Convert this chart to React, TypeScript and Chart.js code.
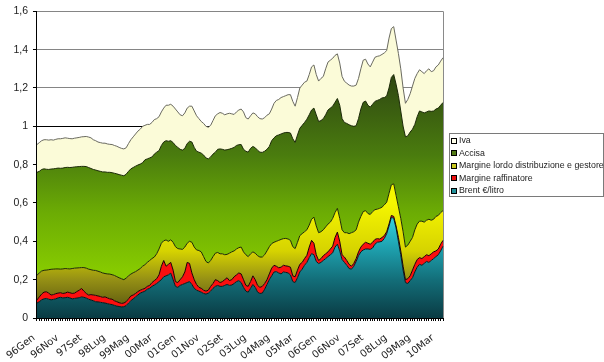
import React, { useEffect, useRef } from 'react';
import { Chart, registerables } from 'chart.js';

Chart.register(...registerables);

// ---------- data ----------
const startYear = 1996;
const monthNames = ['Gen', 'Feb', 'Mar', 'Apr', 'Mag', 'Giu', 'Lug', 'Ago', 'Set', 'Ott', 'Nov', 'Dic'];
const monthCount = 174; // Gen 1996 .. Giu 2010

const categories: string[] = [];
for (let k = 0; k < monthCount; k++) {
  const yy = String((startYear + Math.floor(k / 12)) % 100).padStart(2, '0');
  categories.push(yy + monthNames[k % 12]);
}

const xTickLabels = ['96Gen', '96Nov', '97Set', '98Lug', '99Mag', '00Mar', '01Gen', '01Nov', '02Set',
  '03Lug', '04Mag', '05Mar', '06Gen', '06Nov', '07Set', '08Lug', '09Mag', '10Mar'];

// cumulative levels (€/litro), upper edge of each band
const brentTop = [
  0.078, 0.085, 0.095, 0.100, 0.102, 0.098, 0.095, 0.097, 0.100, 0.105, 0.108, 0.105,
  0.106, 0.108, 0.105, 0.100, 0.102, 0.104, 0.106, 0.110, 0.108, 0.104, 0.098, 0.094,
  0.090, 0.085, 0.084, 0.082, 0.080, 0.078, 0.075, 0.072, 0.070, 0.066, 0.062, 0.060,
  0.058, 0.059, 0.065, 0.078, 0.090, 0.100, 0.110, 0.120, 0.130, 0.135, 0.140, 0.150,
  0.155, 0.165, 0.172, 0.180, 0.190, 0.200, 0.215, 0.220, 0.225, 0.234, 0.200, 0.165,
  0.160, 0.170, 0.175, 0.180, 0.185, 0.190, 0.175, 0.155, 0.145, 0.140, 0.135, 0.128,
  0.125, 0.130, 0.140, 0.155, 0.165, 0.170, 0.165, 0.165, 0.170, 0.175, 0.170, 0.172,
  0.180, 0.190, 0.195, 0.185, 0.160, 0.140, 0.135, 0.155, 0.175, 0.160, 0.135, 0.128,
  0.130, 0.150, 0.175, 0.200, 0.220, 0.240, 0.242, 0.235, 0.230, 0.240, 0.238, 0.235,
  0.225, 0.190, 0.185, 0.210, 0.240, 0.255, 0.275, 0.290, 0.315, 0.336, 0.330, 0.295,
  0.284, 0.290, 0.300, 0.310, 0.320, 0.330, 0.340, 0.370, 0.385, 0.350, 0.305, 0.290,
  0.275, 0.258, 0.255, 0.270, 0.295, 0.325, 0.345, 0.355, 0.360, 0.360, 0.358, 0.365,
  0.385, 0.395, 0.397, 0.400, 0.415, 0.440, 0.480, 0.525, 0.520, 0.470, 0.400, 0.330,
  0.250, 0.185, 0.180, 0.195, 0.210, 0.240, 0.265, 0.280, 0.275, 0.285, 0.295, 0.290,
  0.300, 0.310, 0.320, 0.330, 0.350, 0.375,
];

const raffinatoreTop = [
  0.094, 0.110, 0.125, 0.135, 0.137, 0.130, 0.120, 0.122, 0.127, 0.130, 0.132, 0.128,
  0.130, 0.135, 0.132, 0.128, 0.130, 0.138, 0.145, 0.154, 0.140, 0.128, 0.120, 0.122,
  0.120, 0.118, 0.115, 0.112, 0.108, 0.110, 0.105, 0.100, 0.098, 0.090, 0.085, 0.080,
  0.076, 0.078, 0.085, 0.100, 0.115, 0.120, 0.128, 0.138, 0.145, 0.150, 0.155, 0.165,
  0.170, 0.185, 0.195, 0.205, 0.225, 0.270, 0.300, 0.270, 0.280, 0.290, 0.250, 0.190,
  0.185, 0.200, 0.215, 0.240, 0.290, 0.285, 0.235, 0.200, 0.175, 0.160, 0.155, 0.145,
  0.140, 0.145, 0.165, 0.180, 0.200, 0.195, 0.185, 0.190, 0.200, 0.210, 0.195, 0.200,
  0.215, 0.225, 0.235, 0.230, 0.200, 0.170, 0.165, 0.190, 0.220, 0.200, 0.170, 0.160,
  0.165, 0.180, 0.200, 0.230, 0.260, 0.275, 0.270, 0.262, 0.265, 0.275, 0.272, 0.270,
  0.265, 0.220, 0.215, 0.250, 0.280, 0.290, 0.310, 0.327, 0.370, 0.405, 0.390, 0.330,
  0.300, 0.310, 0.325, 0.335, 0.345, 0.360, 0.375, 0.420, 0.448, 0.400, 0.330, 0.318,
  0.300, 0.280, 0.270, 0.285, 0.310, 0.345, 0.370, 0.385, 0.395, 0.390, 0.385, 0.395,
  0.410, 0.414, 0.412, 0.420, 0.430, 0.450, 0.490, 0.535, 0.530, 0.480, 0.420, 0.350,
  0.270, 0.200, 0.205, 0.220, 0.250, 0.280, 0.305, 0.315, 0.310, 0.320, 0.330, 0.325,
  0.335, 0.345, 0.350, 0.360, 0.385, 0.405,
];

const margineTop = [
  0.223, 0.235, 0.245, 0.249, 0.250, 0.252, 0.254, 0.255, 0.256, 0.256, 0.255, 0.256,
  0.258, 0.257, 0.256, 0.258, 0.260, 0.261, 0.262, 0.263, 0.263, 0.260, 0.255, 0.252,
  0.249, 0.248, 0.244, 0.240, 0.235, 0.232, 0.230, 0.229, 0.226, 0.222, 0.216, 0.210,
  0.205, 0.200, 0.208, 0.220, 0.229, 0.236, 0.242, 0.250, 0.258, 0.270, 0.278, 0.290,
  0.300, 0.310, 0.318, 0.335, 0.360, 0.390, 0.403, 0.407, 0.400, 0.408, 0.395, 0.372,
  0.362, 0.360, 0.358, 0.370, 0.390, 0.400, 0.395, 0.370, 0.355, 0.352, 0.345, 0.320,
  0.295, 0.287, 0.300, 0.320, 0.338, 0.342, 0.335, 0.335, 0.330, 0.332, 0.338, 0.345,
  0.350, 0.360, 0.367, 0.370, 0.345, 0.330, 0.320, 0.335, 0.345, 0.338, 0.325, 0.318,
  0.318, 0.330, 0.350, 0.372, 0.388, 0.395, 0.400, 0.405, 0.410, 0.414, 0.415, 0.412,
  0.405, 0.372, 0.362, 0.395, 0.430, 0.440, 0.450, 0.460, 0.485, 0.515, 0.526, 0.480,
  0.445, 0.450, 0.460, 0.475, 0.490, 0.500, 0.520, 0.550, 0.572, 0.520, 0.460, 0.445,
  0.445, 0.440, 0.445, 0.450, 0.460, 0.500, 0.530, 0.555, 0.560, 0.545, 0.540, 0.555,
  0.565, 0.568, 0.572, 0.578, 0.590, 0.604, 0.650, 0.695, 0.700, 0.640, 0.580, 0.520,
  0.450, 0.370, 0.380, 0.400, 0.420, 0.460, 0.490, 0.505, 0.505, 0.500, 0.510, 0.515,
  0.510, 0.515, 0.530, 0.535, 0.550, 0.560,
];

const accisaTop = [
  0.760, 0.765, 0.775, 0.778, 0.776, 0.775, 0.777, 0.778, 0.780, 0.782, 0.781, 0.782,
  0.785, 0.786, 0.785, 0.786, 0.788, 0.789, 0.790, 0.791, 0.791, 0.790, 0.785, 0.780,
  0.775, 0.772, 0.768, 0.765, 0.762, 0.762, 0.760, 0.760, 0.758, 0.755, 0.752, 0.748,
  0.745, 0.742, 0.750, 0.765, 0.778, 0.785, 0.792, 0.798, 0.803, 0.810, 0.825, 0.830,
  0.835, 0.840, 0.855, 0.865, 0.873, 0.900, 0.918, 0.925, 0.922, 0.925, 0.915, 0.900,
  0.890, 0.880, 0.876, 0.885, 0.910, 0.922, 0.918, 0.890, 0.870, 0.865, 0.860, 0.850,
  0.835, 0.830, 0.840, 0.855, 0.865, 0.880, 0.882, 0.880, 0.876, 0.878, 0.881, 0.885,
  0.890, 0.900, 0.904, 0.905, 0.880, 0.870, 0.865, 0.885, 0.895, 0.888, 0.875, 0.865,
  0.864, 0.870, 0.880, 0.895, 0.925, 0.940, 0.951, 0.955, 0.960, 0.965, 0.968, 0.968,
  0.965, 0.935, 0.916, 0.955, 0.990, 1.005, 1.020, 1.037, 1.060, 1.085, 1.095, 1.060,
  1.025, 1.030, 1.040, 1.060, 1.085, 1.095, 1.105, 1.125, 1.145, 1.110, 1.040, 1.020,
  1.015, 1.008, 1.003, 1.000, 1.003, 1.040, 1.090, 1.125, 1.132, 1.110, 1.100, 1.115,
  1.130, 1.135, 1.140, 1.148, 1.150, 1.158, 1.200, 1.255, 1.270, 1.220, 1.160, 1.080,
  1.000, 0.945, 0.950, 0.970, 0.985, 1.010, 1.050, 1.080, 1.075, 1.070, 1.075, 1.080,
  1.078, 1.080, 1.090, 1.095, 1.110, 1.124,
];

const ivaTop = [
  0.905, 0.915, 0.925, 0.930, 0.930, 0.928, 0.930, 0.928, 0.932, 0.935, 0.935, 0.937,
  0.940, 0.938, 0.936, 0.935, 0.938, 0.940, 0.942, 0.945, 0.946, 0.947, 0.944, 0.940,
  0.930, 0.925, 0.918, 0.915, 0.912, 0.912, 0.908, 0.906, 0.905, 0.900, 0.896, 0.890,
  0.885, 0.882, 0.888, 0.910, 0.930, 0.945, 0.960, 0.975, 0.985, 1.000, 1.005, 1.010,
  1.010, 1.020, 1.035, 1.040, 1.050, 1.075, 1.095, 1.110, 1.110, 1.115, 1.105, 1.090,
  1.075, 1.060, 1.055, 1.070, 1.095, 1.105, 1.105, 1.080, 1.055, 1.040, 1.025, 1.015,
  1.000, 0.995, 1.005, 1.030, 1.055, 1.065, 1.072, 1.068, 1.060, 1.065, 1.068, 1.065,
  1.062, 1.075, 1.085, 1.090, 1.075, 1.045, 1.038, 1.055, 1.070, 1.065, 1.050, 1.040,
  1.038, 1.045, 1.058, 1.065, 1.090, 1.120, 1.135, 1.140, 1.150, 1.155, 1.160, 1.165,
  1.165, 1.130, 1.105, 1.150, 1.200, 1.215, 1.230, 1.236, 1.270, 1.310, 1.320, 1.270,
  1.236, 1.250, 1.260, 1.300, 1.335, 1.345, 1.355, 1.370, 1.378, 1.330, 1.260, 1.235,
  1.225, 1.215, 1.210, 1.210, 1.215, 1.250, 1.300, 1.345, 1.350, 1.325, 1.310, 1.335,
  1.360, 1.365, 1.368, 1.375, 1.383, 1.395, 1.460, 1.510, 1.520, 1.450, 1.380, 1.300,
  1.200, 1.120, 1.140, 1.170, 1.210, 1.250, 1.275, 1.295, 1.285, 1.275, 1.290, 1.300,
  1.285, 1.290, 1.310, 1.320, 1.340, 1.358,
];

const seriesNames = ['Brent €/litro', 'Margine raffinatore', 'Margine lordo distribuzione e gestore', 'Accisa', 'Iva'];
const yMin = 0;
const yMax = 1.6;
const yStep = 0.2;

// ---------- styling helpers ----------
type Stop = [number, string];

function bandGradient(chart: any, stops: Stop[]): any {
  const { ctx, chartArea, scales } = chart;
  if (!chartArea || !scales || !scales.y) return stops[stops.length - 1][1];
  const y = scales.y;
  const bottom = y.getPixelForValue(stops[0][0]);
  const top = y.getPixelForValue(stops[stops.length - 1][0]);
  const g = ctx.createLinearGradient(0, bottom, 0, top);
  stops.forEach(([v, c]) => {
    const off = (y.getPixelForValue(v) - bottom) / (top - bottom);
    g.addColorStop(Math.min(1, Math.max(0, off)), c);
  });
  return g;
}

const legendSwatches = ['#21909a', '#ec1010', '#c8c820', '#527a14', '#ffffea'];

const boxLegend = {
  id: 'boxLegend',
  beforeDatasetsDraw(chart: any) {
    const { ctx, chartArea } = chart;
    ctx.save();
    ctx.strokeStyle = '#8a8a8a';
    ctx.lineWidth = 1;
    ctx.beginPath();
    ctx.moveTo(Math.round(chartArea.right) + 0.5, chartArea.top);
    ctx.lineTo(Math.round(chartArea.right) + 0.5, chartArea.bottom);
    ctx.stroke();
    ctx.restore();
  },
  afterDraw(chart: any) {
    const { ctx, chartArea } = chart;
    const n = seriesNames.length;
    const rowH = 12.5;
    const height = 63;
    const left = Math.round(chartArea.right) + 6;
    const top = Math.round((chartArea.top + chartArea.bottom) / 2 - height / 2);
    const width = 154;
    ctx.save();
    ctx.fillStyle = '#ffffff';
    ctx.fillRect(left, top, width, height);
    ctx.strokeStyle = '#7a7a7a';
    ctx.lineWidth = 1;
    ctx.strokeRect(left + 0.5, top + 0.5, width, height);
    ctx.font = '8.8px "Liberation Sans", Arial, sans-serif';
    ctx.textBaseline = 'middle';
    ctx.textAlign = 'left';
    for (let k = 0; k < n; k++) {
      const idx = n - 1 - k;
      const cy = top + 7.5 + k * rowH;
      const bx = left + 2;
      const by = Math.round(cy - 3);
      ctx.fillStyle = legendSwatches[idx];
      ctx.fillRect(bx, by, 6, 6);
      ctx.strokeStyle = '#000';
      ctx.strokeRect(bx + 0.5, by + 0.5, 5, 5);
      ctx.fillStyle = '#222';
      ctx.fillText(seriesNames[idx], left + 10, cy + 0.5);
    }
    ctx.restore();
  },
};

export default function App() {
  const canvasRef = useRef<HTMLCanvasElement | null>(null);

  useEffect(() => {
    const canvas = canvasRef.current;
    if (!canvas) return;

    const common = {
      pointRadius: 0,
      pointHoverRadius: 0,
      borderWidth: 1,
      tension: 0,
    };

    const chart = new Chart(canvas, {
      type: 'line',
      data: {
        labels: categories,
        datasets: [
          {
            ...common,
            label: seriesNames[0],
            data: brentTop,
            fill: 'origin',
            borderColor: '#06181a',
            backgroundColor: (c: any) => bandGradient(c.chart, [[0, '#0a3b43'], [0.2, '#136e79'], [0.38, '#1fa5b3'], [0.53, '#36d2df']]),
          },
          {
            ...common,
            label: seriesNames[1],
            data: raffinatoreTop,
            fill: '-1',
            borderColor: '#1a0000',
            backgroundColor: '#fb0f0f',
          },
          {
            ...common,
            label: seriesNames[2],
            data: margineTop,
            fill: '-1',
            borderColor: '#1c2a02',
            backgroundColor: (c: any) => bandGradient(c.chart, [[0.05, '#5e5a10'], [0.2, '#959015'], [0.35, '#d6d300'], [0.6, '#f6f600']]),
          },
          {
            ...common,
            label: seriesNames[3],
            data: accisaTop,
            fill: '-1',
            borderColor: '#1c2a08',
            backgroundColor: (c: any) => bandGradient(c.chart, [[0.25, '#86ca00'], [0.55, '#6cac04'], [0.85, '#4a7c0e'], [1.27, '#2e4612']]),
          },
          {
            ...common,
            label: seriesNames[4],
            data: ivaTop,
            fill: '-1',
            borderColor: '#6a6a60',
            backgroundColor: '#fbfbd8',
          },
        ],
      },
      options: {
        responsive: false,
        maintainAspectRatio: false,
        animation: false,
        devicePixelRatio: 1,
        events: [],
        layout: { padding: { top: 10, right: 161, left: 0, bottom: 0 } },
        plugins: {
          legend: { display: false },
          tooltip: { enabled: false },
          filler: { propagate: false },
        },
        scales: {
          x: {
            type: 'category',
            offset: false,
            border: { display: true, color: '#000', width: 1 },
            grid: {
              display: true,
              drawOnChartArea: false,
              drawTicks: true,
              tickLength: 3,
              tickColor: '#000',
              offset: false,
            },
            ticks: {
              autoSkip: false,
              minRotation: 38,
              maxRotation: 38,
              padding: 11,
              labelOffset: -3,
              color: '#222',
              font: { family: '"DejaVu Sans", Verdana, sans-serif', size: 10 },
              callback: (_v: any, index: number) => (xTickLabels.includes(categories[index]) ? categories[index] : ''),
            },
            afterFit: (scale: any) => {
              scale.height = 44;
            },
          },
          y: {
            min: yMin,
            max: yMax,
            border: { display: true, color: '#000', width: 1 },
            grid: {
              color: (c: any) => (c.tick && Math.abs(c.tick.value - 1) < 1e-6 ? '#000000' : '#858585'),
              lineWidth: 1,
              tickLength: 4,
              tickColor: '#000',
            },
            ticks: {
              stepSize: yStep,
              padding: 5,
              color: '#222',
              font: { family: '"Liberation Sans", Arial, sans-serif', size: 10.5 },
              callback: (v: any) => String(Number(Number(v).toFixed(1))).replace('.', ','),
            },
            afterFit: (scale: any) => {
              scale.width = 36;
            },
          },
        },
      },
      plugins: [boxLegend],
    } as any);

    return () => {
      chart.destroy();
    };
  }, []);

  return (
    <div style={{ position: 'absolute', left: 0, top: 0, width: 604, height: 362, background: '#fff' }}>
      <canvas ref={canvasRef} width={604} height={362} style={{ display: 'block', width: 604, height: 362 }} />
    </div>
  );
}
